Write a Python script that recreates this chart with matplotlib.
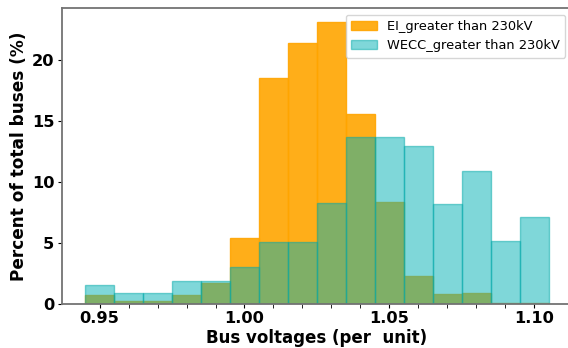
import numpy as np
import matplotlib
matplotlib.use("Agg")
import matplotlib.pyplot as plt

# centres des classes (tension par unite)
bins = [0.95, 0.96, 0.97, 0.98, 0.99, 1.00, 1.01, 1.02,
        1.03, 1.04, 1.05, 1.06, 1.07, 1.08, 1.09, 1.10]
ei = [0.72, 0.2, 0.2, 0.72, 1.7, 5.4, 18.5, 21.4,
      23.1, 15.6, 8.35, 2.3, 0.8, 0.9, 0.1, 0.1]
wecc = [1.54, 0.88, 0.88, 1.87, 1.87, 3.0, 5.1, 5.1,
        8.25, 13.7, 13.7, 12.9, 8.2, 10.9, 5.15, 7.1]
labels = ["EI_greater than 230kV", "WECC_greater than 230kV"]
xtick_labels = ["0.95", "1.00", "1.05", "1.10"]

fig = plt.figure(figsize=(5.68, 3.48), dpi=100)
ax = fig.add_axes([0.109, 0.127, 0.898, 0.850])

ax.bar(bins, ei, width=0.01, color="orange", edgecolor="orange",
       linewidth=1, alpha=0.9, label=labels[0])
ax.bar(bins, wecc, width=0.01, color="#00b1b5", edgecolor="#00a8a8",
       linewidth=1, alpha=0.5, label=labels[1])

ax.set_xticks([float(t) for t in xtick_labels])
ax.set_xticklabels(xtick_labels, fontweight="bold", fontsize=11.7)
ax.set_xticks(bins, minor=True)
ax.tick_params(axis="both", which="both", length=3, pad=2.5)
ax.set_yticks([0, 5, 10, 15, 20])
ax.set_yticklabels(["0", "5", "10", "15", "20"], fontweight="bold", fontsize=11.7)

ax.set_xlabel("Bus voltages (per  unit)", fontweight="bold", fontsize=12, labelpad=1.5)
ax.set_ylabel("Percent of total buses (%)", fontweight="bold", fontsize=12.2, labelpad=3)

for s in ax.spines.values():
    s.set_color("0.45")
    s.set_linewidth(1.3)

ax.legend(loc="upper right", fontsize=9.4)

fig.savefig("out.png", dpi=100)
